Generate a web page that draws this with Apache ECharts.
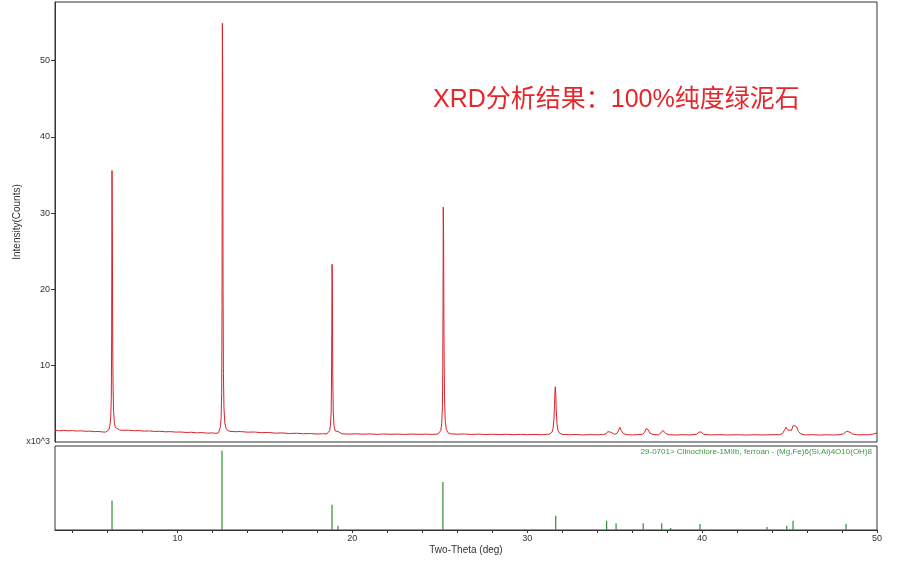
<!DOCTYPE html>
<html><head><meta charset="utf-8">
<script src="https://cdn.jsdelivr.net/npm/echarts@6/dist/echarts.min.js"></script>
<style>html,body{margin:0;padding:0;background:#fff}#c{width:900px;height:568px}</style>
</head><body><div id="c"></div>
<script>
// Measured pattern: 2-theta (deg) and intensity (x10^3 counts)
const twoTheta = [
3.00,3.25,3.50,3.75,4.00,4.25,4.50,4.75,5.00,5.25,5.50,5.75,5.90,6.00,
6.08,6.14,6.19,6.22,6.24,6.26,6.28,6.30,6.32,6.35,6.40,6.46,6.55,6.70,
6.9,7.2,7.5,7.8,8.1,8.4,8.7,9.0,9.3,9.6,9.9,10.2,10.5,10.8,11.1,11.4,11.7,12.0,12.2,12.35,
12.40,12.46,12.50,12.53,12.55,12.57,12.59,12.61,12.63,12.66,12.71,12.78,12.88,13.0,
13.3,13.6,14.0,14.4,14.8,15.2,15.6,16.0,16.4,16.8,17.2,17.6,18.0,18.3,18.55,18.65,
18.70,18.75,18.79,18.81,18.83,18.84,18.86,18.88,18.91,18.95,19.02,19.10,19.18,19.26,19.4,
19.8,20.2,20.6,21.0,21.4,21.8,22.2,22.6,23.0,23.4,23.8,24.2,24.6,24.9,25.0,
25.06,25.11,25.15,25.17,25.19,25.20,25.22,25.24,25.27,25.31,25.38,25.48,25.6,
26.0,26.4,26.8,27.2,27.6,28.0,28.4,28.8,29.2,29.6,30.0,30.4,30.8,31.1,31.3,31.42,
31.48,31.53,31.56,31.59,31.61,31.63,31.66,31.70,31.76,31.85,32.0,
32.4,32.8,33.2,33.6,34.0,34.3,34.5,34.6,34.67,34.75,34.85,35.0,35.15,35.22,35.30,35.38,35.5,35.7,
36.0,36.3,36.6,36.72,36.8,36.85,36.92,37.02,37.2,37.5,37.65,37.72,37.76,37.82,37.92,38.1,
38.5,38.9,39.3,39.7,39.82,39.88,39.95,40.1,40.5,41.0,41.5,42.0,42.5,43.0,43.5,44.0,44.4,
44.6,44.72,44.80,44.88,44.98,45.1,45.22,45.31,45.40,45.5,45.65,45.9,46.3,46.7,47.1,47.5,47.9,
48.1,48.25,48.34,48.45,48.6,48.9,49.2,49.5,49.8,50.0
];
const counts = [
1.52,1.47,1.53,1.46,1.50,1.44,1.47,1.40,1.43,1.36,1.38,1.31,1.30,1.33,
1.6,2.2,3.4,6.0,14.0,35.6,27.6,12.5,7.2,4.0,2.4,1.9,1.65,1.57,
1.53,1.55,1.48,1.49,1.43,1.45,1.38,1.41,1.34,1.36,1.30,1.31,1.25,1.28,1.20,1.23,1.16,1.19,1.13,1.2,
1.4,2.0,3.2,6.5,18.0,54.9,47.3,20.0,9.0,4.5,2.5,1.8,1.5,1.40,
1.35,1.37,1.29,1.31,1.22,1.25,1.16,1.19,1.11,1.15,1.08,1.11,1.04,1.08,1.06,1.2,
1.5,2.2,3.8,8.0,16.0,23.3,21.0,9.0,4.0,2.2,1.45,1.2,1.38,1.15,1.08,
1.03,1.07,1.02,1.06,1.00,1.05,1.01,1.04,0.99,1.04,1.00,1.03,0.99,1.06,1.15,
1.5,2.4,4.5,9.0,20.0,30.8,26.5,14.0,6.0,2.8,1.6,1.2,1.08,
1.02,1.05,0.99,1.03,0.98,1.02,0.97,1.01,0.96,1.00,0.96,0.99,0.95,0.99,1.05,1.3,
1.8,3.0,4.8,6.8,7.25,6.4,4.2,2.4,1.5,1.15,1.0,
0.95,0.98,0.93,0.97,0.94,0.97,1.05,1.35,1.57,1.3,1.05,1.0,1.15,1.55,1.92,1.5,1.1,0.96,
0.93,0.97,1.02,1.3,1.75,1.87,1.6,1.15,0.98,0.94,1.2,1.45,1.53,1.4,1.1,0.95,
0.92,0.96,0.93,1.02,1.3,1.48,1.3,1.0,0.93,0.96,0.92,0.95,0.91,0.95,0.92,0.96,0.95,
1.1,1.6,1.92,1.6,1.35,1.5,2.2,2.45,2.0,1.4,1.05,0.93,0.96,0.91,0.95,0.92,0.96,
1.1,1.4,1.44,1.3,1.05,0.93,0.96,0.94,1.05,1.2
];
// Reference pattern 29-0701 stick positions and relative heights
const stickPos = [6.26,12.55,18.84,19.18,25.18,31.63,34.54,35.08,36.63,37.69,38.2,39.88,43.71,44.84,45.2,48.23];
const stickRel = [35,94.4,30,5,57,17,11,8,8,8,2.5,7,3.6,5,11,7.5];
// Tick labels / tick positions
const xLabelValues = [10,20,30,40,50];
const xTickValues = [4,6,8,10,12,14,16,18,20,22,24,26,28,30,32,34,36,38,40,42,44,46,48,50];
const yLabelValues = [0,10,20,30,40,50];

const lineData = twoTheta.map((t,i)=>[t,counts[i]]);
const stickData = stickPos.map((p,i)=>[p,stickRel[i]]);

const chart = echarts.init(document.getElementById('c'), null, {renderer:'canvas'});
const baseFont = 'Liberation Sans, Arial, sans-serif';
chart.setOption({
  animation:false,
  backgroundColor:'#fff',
  title:{
    text:'XRD分析结果：100%纯度绿泥石',
    left:428, top:83,
    textStyle:{color:'#e5262b', fontSize:25, fontWeight:'normal', fontFamily:'Liberation Sans, Noto Sans CJK SC'}
  },
  graphic:[{
    type:'text', right:28, top:448,
    style:{text:'29-0701> Clinochlore-1MIIb, ferroan - (Mg,Fe)6(Si,Al)4O10(OH)8', fill:'#3c9a3c', font:'8px '+baseFont}
  }],
  grid:[
    {left:55, right:23, top:2, height:440, show:true, borderColor:'#333', borderWidth:1, backgroundColor:'transparent', outerBoundsMode:'none', containLabel:false},
    {left:55, right:23, top:446, height:84, show:true, borderColor:'#333', borderWidth:1, backgroundColor:'transparent', outerBoundsMode:'none', containLabel:false}
  ],
  xAxis:[
    {type:'value', gridIndex:0, min:3, max:50, show:false},
    {type:'value', gridIndex:1, min:3, max:50,
     name:'Two-Theta (deg)', nameLocation:'middle', nameGap:15,
     nameTextStyle:{color:'#333', fontSize:10, fontFamily:baseFont},
     axisLine:{show:true, lineStyle:{color:'#333'}},
     axisTick:{show:true, length:3, customValues:xTickValues, lineStyle:{color:'#333'}},
     axisLabel:{show:true, customValues:xLabelValues, margin:4, color:'#333', fontSize:9, fontFamily:baseFont},
     splitLine:{show:false}}
  ],
  yAxis:[
    {type:'value', gridIndex:0, min:0, max:57.7,
     name:'Intensity(Counts)', nameLocation:'middle', nameGap:33, nameMoveOverlap:false,
     nameTextStyle:{color:'#333', fontSize:10, fontFamily:baseFont},
     axisLine:{show:true, lineStyle:{color:'#333'}},
     axisTick:{show:true, length:4, customValues:yLabelValues.slice(1), lineStyle:{color:'#333'}},
     axisLabel:{show:true, customValues:yLabelValues, margin:5, color:'#333', fontSize:9, fontFamily:baseFont,
       formatter:v=> v===0 ? 'x10^3' : String(v)},
     splitLine:{show:false}},
    {type:'value', gridIndex:1, min:0, max:100, show:false, splitLine:{show:false}}
  ],
  series:[
    {type:'line', xAxisIndex:0, yAxisIndex:0, data:lineData, showSymbol:false, symbol:'none',
     lineStyle:{color:'#d8232a', width:1}, clip:true},
    {type:'bar', xAxisIndex:1, yAxisIndex:1, data:stickData, barWidth:1.2,
     itemStyle:{color:'#2f8f2f'}}
  ]
});
</script></body></html>
